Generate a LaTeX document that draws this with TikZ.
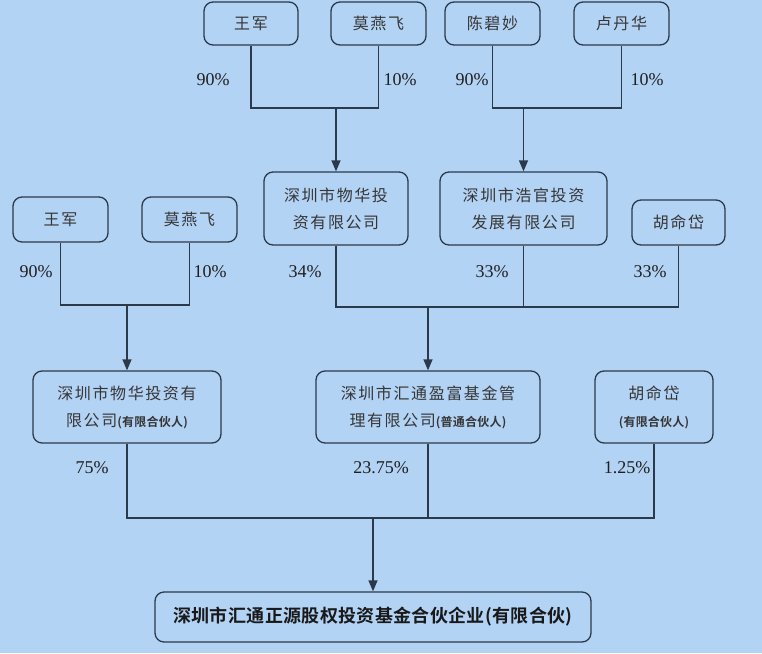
\documentclass[tikz,border=0pt]{standalone}
\usepackage{fontspec}
\usetikzlibrary{arrows.meta}
\setmainfont{Liberation Serif}
\newfontfamily\cjk[LetterSpace=10]{Noto Sans CJK SC}
\newfontfamily\cjkbold[LetterSpace=2]{Noto Sans CJK SC Bold}
\definecolor{bg}{HTML}{B3D3F5}
\definecolor{lc}{HTML}{2B3A4A}
\definecolor{tc}{HTML}{363636}
\definecolor{pc}{HTML}{1F1F1F}
\newcommand\partnote[1]{{\cjkbold\fontsize{12}{14}\selectfont #1}}
\begin{document}
\begin{tikzpicture}[x=1pt,y=-1pt,
  box/.style={draw=lc, line width=1.3pt, rounded corners=9pt, fill=bg, text=tc,
    font=\cjk\fontsize{16}{27}\selectfont, align=center, inner sep=0pt},
  pct/.style={text=pc, font=\fontsize{18}{20}\selectfont, inner sep=0pt},
  link/.style={draw=lc, line width=1.3pt},
  arr/.style={link, -{Triangle[length=11pt,width=9pt]}}]
\useasboundingbox (0,0) rectangle (762,653);
\fill[bg] (0,0) rectangle (762,653);
% top row
\node[box, minimum width=94pt, minimum height=43pt] (t1) at (251,23.5) {王军};
\node[box, minimum width=95pt, minimum height=43pt] (t2) at (378.5,23.5) {莫燕飞};
\node[box, minimum width=95pt, minimum height=43pt] (t3) at (492.5,23.5) {陈碧妙};
\node[box, minimum width=95pt, minimum height=43pt] (t4) at (621.5,23.5) {卢丹华};
% middle row
\node[box, minimum width=144pt, minimum height=73pt] (m1) at (336,208.5) {深圳市物华投\\资有限公司};
\node[box, minimum width=167pt, minimum height=73pt] (m2) at (523.5,208.5) {深圳市浩官投资\\发展有限公司};
\node[box, minimum width=93pt, minimum height=45pt] (m3) at (678.5,222.5) {胡命岱};
\node[box, minimum width=95pt, minimum height=45pt] (l1) at (60.5,219.5) {王军};
\node[box, minimum width=95pt, minimum height=45pt] (l2) at (189.5,219.5) {莫燕飞};
% lower row
\node[box, minimum width=188pt, minimum height=72pt] (b1) at (127,407) {深圳市物华投资有\\限公司\partnote{(有限合伙人)}};
\node[box, minimum width=224pt, minimum height=72pt] (b2) at (428,407) {深圳市汇通盈富基金管\\理有限公司\partnote{(普通合伙人)}};
\node[box, minimum width=118pt, minimum height=72pt] (b3) at (654,407) {胡命岱\\\partnote{(有限合伙人)}};
% bottom
\node[box, minimum width=436pt, minimum height=50pt, text=black!90, font=\cjkbold\fontsize{18}{20}\selectfont] (bot) at (373,617) {深圳市汇通正源股权投资基金合伙企业(有限合伙)};
% junctions
\coordinate (j1) at (336,108);
\coordinate (j2) at (523.5,108);
\coordinate (j3) at (127,305);
\coordinate (j4) at (428,307);
\coordinate (j5) at (373,518);
% connectors
\draw[link] (t1.south) |- (j1) -| (t2.south);
\draw[arr] (j1) -- (j1 |- m1.north);
\draw[link] (t3.south) |- (j2) -| (t4.south);
\draw[arr] (j2) -- (j2 |- m2.north);
\draw[link] (l1.south) |- (j3) -| (l2.south);
\draw[arr] (j3) -- (j3 |- b1.north);
\draw[link] (m1.south) |- (j4) -| (m3.south);
\draw[link] (m2.south) -- (m2.south |- j4);
\draw[arr] (j4) -- (j4 |- b2.north);
\draw[link] (b1.south) |- (j5) -| (b3.south);
\draw[link] (b2.south) -- (b2.south |- j5);
\draw[arr] (j5) -- (j5 |- bot.north);
% percentages
\node[pct] (p1) at (213,80) {90\%};
\node[pct] (p2) at (400,80) {10\%};
\node[pct] (p3) at (472,80) {90\%};
\node[pct] (p4) at (647,80) {10\%};
\node[pct] (p5) at (36,272) {90\%};
\node[pct] (p6) at (210,272) {10\%};
\node[pct] (p7) at (305,272) {34\%};
\node[pct] (p8) at (492,272) {33\%};
\node[pct] (p9) at (650,272) {33\%};
\node[pct] (p10) at (92,468) {75\%};
\node[pct] (p11) at (381,468) {23.75\%};
\node[pct] (p12) at (627,468) {1.25\%};
\end{tikzpicture}
\end{document}
